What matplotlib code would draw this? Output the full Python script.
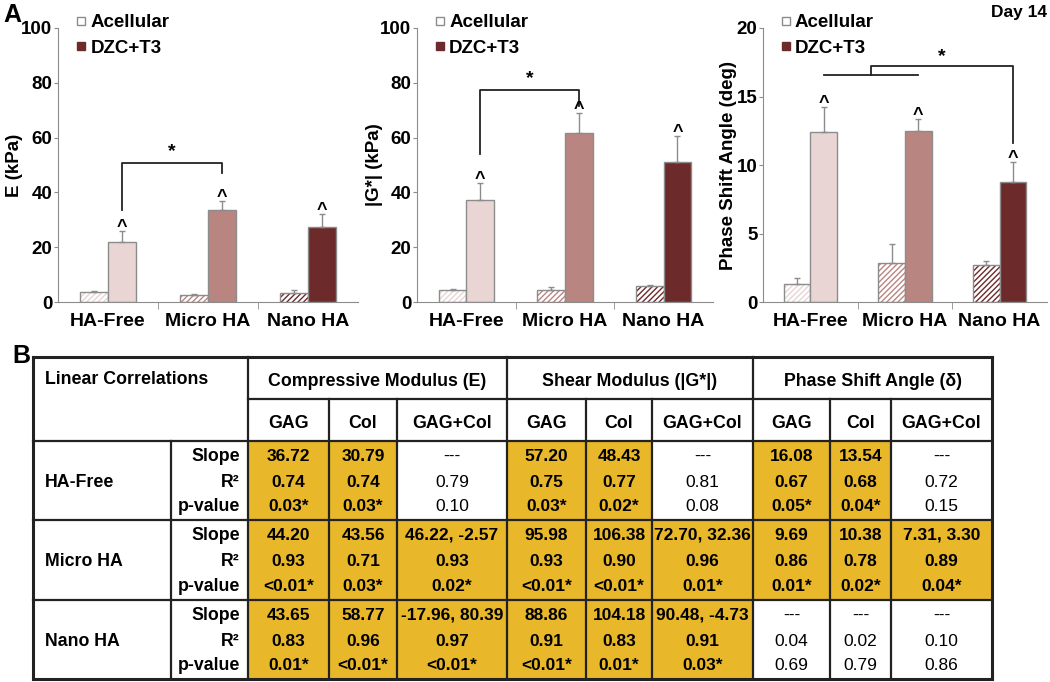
import numpy as np
import matplotlib
matplotlib.use('Agg')
import matplotlib.pyplot as plt
from matplotlib.lines import Line2D
from matplotlib.patches import Rectangle

plt.rcParams['font.family'] = ['Liberation Sans', 'DejaVu Sans']
plt.rcParams['font.weight'] = 'bold'
plt.rcParams['axes.labelweight'] = 'bold'
plt.rcParams['hatch.linewidth'] = 1.0

# ---- panel A data ----
groups = ['HA-Free', 'Micro HA', 'Nano HA']
series = ['Acellular', 'DZC+T3']
group_colors = ['#e9d5d4', '#b98581', '#6d2a2b']

E_acel = [3.5, 2.7, 3.3]
E_acel_err = [0.5, 0.3, 1.2]
E_dzc = [22.0, 33.4, 27.4]
E_dzc_err = [4.0, 3.3, 4.7]

G_acel = [4.3, 4.4, 5.9]
G_acel_err = [0.3, 1.0, 0.3]
G_dzc = [37.2, 61.8, 51.0]
G_dzc_err = [6.1, 7.3, 9.6]

P_acel = [1.32, 2.88, 2.70]
P_acel_err = [0.46, 1.32, 0.30]
P_dzc = [12.44, 12.46, 8.73]
P_dzc_err = [1.76, 0.91, 1.47]

# ---- panel B data ----
table_title = 'Linear Correlations'
measures = ['Compressive Modulus (E)', 'Shear Modulus (|G*|)', 'Phase Shift Angle (δ)']
predictors = ['GAG', 'Col', 'GAG+Col']
stat_names = ['Slope', 'R²', 'p-value']

hafree_vals = [
    ['36.72', '30.79', '---', '57.20', '48.43', '---', '16.08', '13.54', '---'],
    ['0.74', '0.74', '0.79', '0.75', '0.77', '0.81', '0.67', '0.68', '0.72'],
    ['0.03*', '0.03*', '0.10', '0.03*', '0.02*', '0.08', '0.05*', '0.04*', '0.15']]
hafree_sig = [1, 1, 0, 1, 1, 0, 1, 1, 0]
micro_vals = [
    ['44.20', '43.56', '46.22, -2.57', '95.98', '106.38', '72.70, 32.36', '9.69', '10.38', '7.31, 3.30'],
    ['0.93', '0.71', '0.93', '0.93', '0.90', '0.96', '0.86', '0.78', '0.89'],
    ['<0.01*', '0.03*', '0.02*', '<0.01*', '<0.01*', '0.01*', '0.01*', '0.02*', '0.04*']]
micro_sig = [1, 1, 1, 1, 1, 1, 1, 1, 1]
nano_vals = [
    ['43.65', '58.77', '-17.96, 80.39', '88.86', '104.18', '90.48, -4.73', '---', '---', '---'],
    ['0.83', '0.96', '0.97', '0.91', '0.83', '0.91', '0.04', '0.02', '0.10'],
    ['0.01*', '<0.01*', '<0.01*', '<0.01*', '0.01*', '0.03*', '0.69', '0.79', '0.86']]
nano_sig = [1, 1, 1, 1, 1, 1, 0, 0, 0]

W, H = 1050, 682
fig = plt.figure(figsize=(W / 100, H / 100), dpi=100)


def px_rect(left, top, right, bottom):
    return [left / W, 1 - bottom / H, (right - left) / W, (bottom - top) / H]


# ---- table (pixel coordinates) ----
tab = fig.add_axes([0, 0, 1, 1])
tab.set_xlim(0, W)
tab.set_ylim(H, 0)
tab.axis('off')
tab.patch.set_alpha(0)

col_x = [33, 171, 248, 329, 397, 507, 586, 652, 753, 830, 891, 992]
row_y = [357, 399, 441, 520, 600, 679]
yellow = '#e8b82a'
lc = '#222222'

data_rows = [(groups[0], hafree_vals, hafree_sig),
             (groups[1], micro_vals, micro_sig),
             (groups[2], nano_vals, nano_sig)]

for r, (gname, vals, sig) in enumerate(data_rows):
    top, bot = row_y[2 + r], row_y[3 + r]
    for c in range(9):
        if sig[c]:
            tab.add_patch(Rectangle((col_x[2 + c], top), col_x[3 + c] - col_x[2 + c], bot - top,
                                    facecolor=yellow, edgecolor='none'))
    tab.text(45, (top + bot) / 2 + 2, gname, ha='left', va='center', fontsize=12.8)
    for k in range(3):
        yy = top + (bot - top) * [0.19, 0.52, 0.83][k]
        tab.text(240, yy, stat_names[k], ha='right', va='center', fontsize=12.8)
        for c in range(9):
            tab.text((col_x[2 + c] + col_x[3 + c]) / 2, yy, vals[k][c], ha='center', va='center',
                     fontsize=12.5, fontweight='bold' if sig[c] else 'normal')

# header texts
tab.text(45, 379, table_title, ha='left', va='center', fontsize=12.8)
for m in range(3):
    x0, x1 = col_x[2 + 3 * m], col_x[5 + 3 * m]
    tab.text((x0 + x1) / 2, 381, measures[m], ha='center', va='center', fontsize=12.8)
    for p in range(3):
        tab.text((col_x[2 + 3 * m + p] + col_x[3 + 3 * m + p]) / 2, 423, predictors[p],
                 ha='center', va='center', fontsize=12.8)

# grid lines
lw = 1.6
tab.plot([col_x[0], col_x[-1]], [row_y[0], row_y[0]], color=lc, lw=2.2)
tab.plot([col_x[0], col_x[-1]], [row_y[-1], row_y[-1]], color=lc, lw=2.2)
tab.plot([col_x[0], col_x[0]], [row_y[0], row_y[-1]], color=lc, lw=2.2)
tab.plot([col_x[-1], col_x[-1]], [row_y[0], row_y[-1]], color=lc, lw=2.2)
tab.plot([col_x[2], col_x[-1]], [row_y[1], row_y[1]], color=lc, lw=lw)
for yv in row_y[2:-1]:
    tab.plot([col_x[0], col_x[-1]], [yv, yv], color=lc, lw=lw)
tab.plot([col_x[1], col_x[1]], [row_y[2], row_y[-1]], color=lc, lw=lw)
for i, xv in enumerate(col_x[2:-1]):
    y_start = row_y[0] if i % 3 == 0 else row_y[1]
    tab.plot([xv, xv], [y_start, row_y[-1]], color=lc, lw=lw)

fig.text(12 / W, 1 - 356 / H, 'B', fontsize=18, va='center', ha='left')
fig.text(3 / W, 1 - 15 / H, 'A', fontsize=18, va='center', ha='left')
fig.text(1047 / W, 1 - 12 / H, 'Day 14', fontsize=12.5, va='center', ha='right')


# ---- bar panels ----
def bar_panel(left, right, acel, acel_err, dzc, dzc_err, ymax, ystep, ylabel, label_x,
              caret_pad, brackets, star):
    ax = fig.add_axes(px_rect(left, 28, right, 302))
    x = np.arange(3) + 0.5
    w = 0.28
    for i in range(3):
        ax.bar(x[i] - w / 2, acel[i], w, color='white', edgecolor=group_colors[i], hatch='//////', lw=0)
        ax.bar(x[i] - w / 2, acel[i], w, fill=False, edgecolor='#8c8c8c', lw=1)
        ax.bar(x[i] + w / 2, dzc[i], w, color=group_colors[i], edgecolor='#8c8c8c', lw=1)
    ax.errorbar(x - w / 2, acel, yerr=[[0] * 3, acel_err], fmt='none', ecolor='#8c8c8c',
                elinewidth=1, capsize=2)
    ax.errorbar(x + w / 2, dzc, yerr=[[0] * 3, dzc_err], fmt='none', ecolor='#8c8c8c',
                elinewidth=1, capsize=2)
    for i in range(3):
        ax.text(x[i] + w / 2, dzc[i] + dzc_err[i] + caret_pad, '^', ha='center', va='bottom',
                fontsize=13)
    for bx, by in brackets:
        ax.plot(bx, by, color='#222222', lw=1.3)
    ax.text(star[0], star[1], '*', ha='center', va='center', fontsize=14)

    ax.set_xlim(0, 3)
    ax.set_ylim(0, ymax)
    ax.set_yticks(np.arange(0, ymax + ystep / 2, ystep))
    ax.set_xticks(x)
    ax.set_xticklabels(groups, fontsize=14, fontweight='bold')
    ax.set_xticks([1, 2], minor=True)
    ax.tick_params(axis='x', which='major', length=0, pad=8)
    ax.tick_params(axis='x', which='minor', length=5, color='#8c8c8c')
    ax.tick_params(axis='y', length=3, color='#8c8c8c', labelsize=13.5, pad=1)
    for lab in ax.get_yticklabels():
        lab.set_fontweight('bold')
    for s in ['top', 'right']:
        ax.spines[s].set_visible(False)
    for s in ['left', 'bottom']:
        ax.spines[s].set_color('#8c8c8c')
    ax.set_ylabel(ylabel, fontsize=13.5, fontweight='bold')
    ax.yaxis.set_label_coords(label_x, 0.5)
    handles = [Line2D([], [], marker='s', ls='', mfc='white', mec='#8c8c8c', ms=6),
               Line2D([], [], marker='s', ls='', mfc=group_colors[2], mec=group_colors[2], ms=6)]
    ax.legend(handles, series, loc='upper left', bbox_to_anchor=(0.02, 1.085), frameon=False,
              borderpad=0, handletextpad=0.1, handlelength=0.8, labelspacing=0.45,
              prop={'size': 13.5, 'weight': 'bold'})
    return ax


xl, xr = 0.64, 1.64
bar_panel(58, 358, E_acel, E_acel_err, E_dzc, E_dzc_err, 100, 20, 'E (kPa)', -0.115, -1.8,
          [([xl, xl, xr, xr], [33.5, 50.9, 50.9, 47.0])], (1.14, 55))
bar_panel(417, 713, G_acel, G_acel_err, G_dzc, G_dzc_err, 100, 20, '|G*| (kPa)', -0.115, -1.8,
          [([xl, xl, xr, xr], [53.9, 77.4, 77.4, 71.6])], (1.14, 81.5))
bar_panel(763, 1047, P_acel, P_acel_err, P_dzc, P_dzc_err, 20, 5, 'Phase Shift Angle (deg)',
          -0.092, -0.36,
          [([xl, xr], [16.6, 16.6]), ([1.14, 1.14, 2.64, 2.64], [16.6, 17.2, 17.2, 11.6])],
          (1.89, 17.9))

fig.savefig('out.png', dpi=100)
